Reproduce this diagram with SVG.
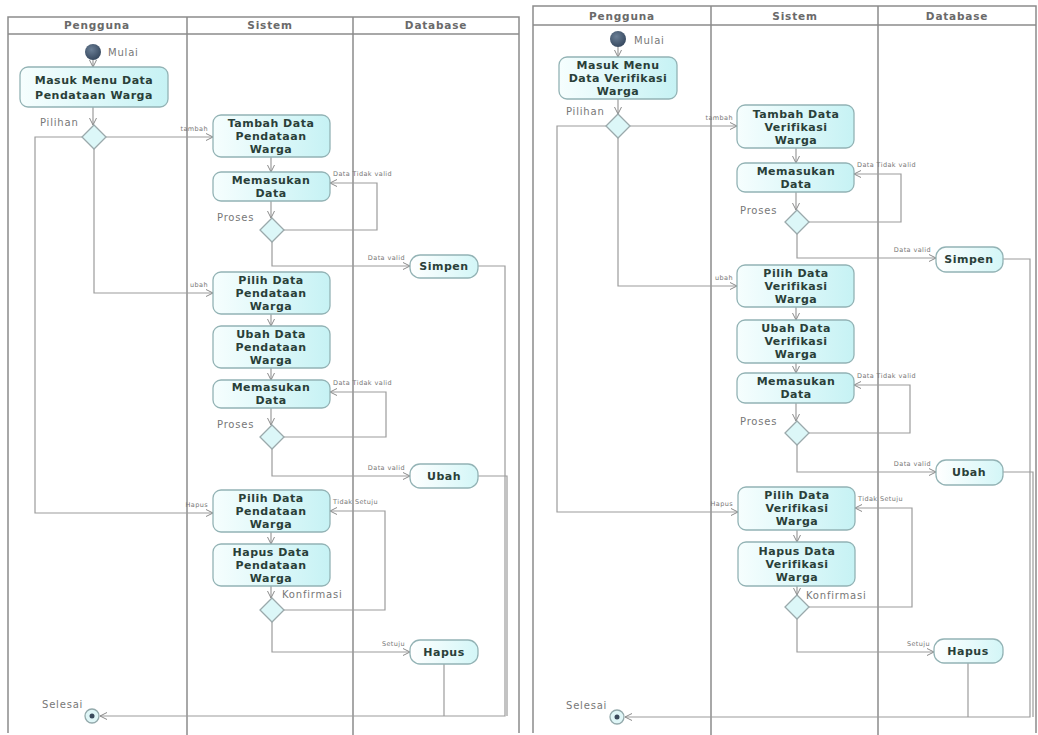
<svg xmlns="http://www.w3.org/2000/svg" width="1038" height="735" viewBox="0 0 1038 735">
<defs>
<linearGradient id="g" x1="0" y1="0" x2="1" y2="0">
<stop offset="0" stop-color="#f6fefe"/><stop offset="1" stop-color="#c6f2f4"/>
</linearGradient>
<linearGradient id="g2" x1="0" y1="0" x2="1" y2="0">
<stop offset="0" stop-color="#ffffff"/><stop offset="1" stop-color="#d3f6f7"/>
</linearGradient>
<radialGradient id="gs" cx="0.4" cy="0.35" r="0.7">
<stop offset="0" stop-color="#6b7f96"/><stop offset="1" stop-color="#34465c"/>
</radialGradient>
<marker id="a" markerWidth="8" markerHeight="8" refX="7" refY="4" orient="auto" markerUnits="userSpaceOnUse">
<path d="M0,0.5 L7,4 L0,7.5" fill="none" stroke="#8a8a8a" stroke-width="1"/>
</marker>
<style>
.box{fill:url(#g);stroke:#93b3b5;stroke-width:1.3}
.db{fill:url(#g2);stroke:#93b3b5;stroke-width:1.3}
.dia{fill:#dcf7f8;stroke:#9aa9ab;stroke-width:1.3}
.t{font-family:"DejaVu Sans",sans-serif;font-weight:bold;font-size:11px;fill:#2a3f39;text-anchor:middle;letter-spacing:0.5px}
.h{font-family:"DejaVu Sans",sans-serif;font-weight:bold;font-size:10.5px;fill:#6a6a6a;text-anchor:middle;letter-spacing:0.8px}
.l{font-family:"DejaVu Sans",sans-serif;font-size:10px;fill:#777;letter-spacing:0.8px}
.s{font-family:"DejaVu Sans",sans-serif;font-size:6.5px;fill:#777;letter-spacing:0.4px}
.r{text-anchor:end}
.lane{stroke:#8c8c8c;stroke-width:1.5;fill:none}
.c{stroke:#9c9c9c;stroke-width:1.2;fill:none}
.ca{stroke:#9c9c9c;stroke-width:1.2;fill:none;marker-end:url(#a)}
.start{fill:url(#gs)}
.end{fill:#dff6f7;stroke:#93a9ab;stroke-width:1.3}
</style>
</defs>
<rect width="1038" height="735" fill="#ffffff"/>

<!-- LEFT DIAGRAM lanes -->
<g id="lanesL">
<path class="lane" d="M8,733 V17 H519 V733 M8,34 H519 M187,17 V735 M353,17 V735"/>
<text class="h" x="97" y="29">Pengguna</text>
<text class="h" x="270" y="29">Sistem</text>
<text class="h" x="436" y="29">Database</text>
</g>

<!-- RIGHT DIAGRAM lanes -->
<g id="lanesR">
<path class="lane" d="M533,733 V6 H1036 V733 M533,25 H1036 M711,6 V735 M878,6 V735"/>
<text class="h" x="622" y="20">Pengguna</text>
<text class="h" x="795" y="20">Sistem</text>
<text class="h" x="957" y="20">Database</text>
</g>

<!-- LEFT connectors -->
<g id="connectorsL">
<path class="ca" d="M93,60 V67"/>
<path class="ca" d="M93,107 V125"/>
<path class="ca" d="M106,137 H213"/>
<path class="ca" d="M94,149 V293 H213"/>
<path class="ca" d="M82,137 H35 V513 H213"/>
<path class="ca" d="M271,157 V172"/>
<path class="ca" d="M271,201 V218"/>
<path class="ca" d="M284,230 H377 V183 H330"/>
<path class="ca" d="M272,242 V266 H410"/>
<path class="ca" d="M478,266 H505 V716 H100"/>
<path class="ca" d="M271,314 V326"/>
<path class="ca" d="M271,368 V380"/>
<path class="ca" d="M271,408 V425"/>
<path class="ca" d="M284,437 H386 V392 H330"/>
<path class="ca" d="M272,449 V476 H410"/>
<path class="c" d="M478,476 H507 V716"/>
<path class="ca" d="M271,532 V544"/>
<path class="ca" d="M271,586 V598"/>
<path class="ca" d="M284,610 H385 V511 H330"/>
<path class="ca" d="M272,622 V652 H410"/>
<path class="c" d="M444,664 V716"/>
<text class="s r" x="208" y="131">tambah</text>
<text class="s r" x="208" y="287">ubah</text>
<text class="s r" x="208" y="507">Hapus</text>
<text class="s" x="333" y="176">Data Tidak valid</text>
<text class="s r" x="405" y="260">Data valid</text>
<text class="s" x="333" y="385">Data Tidak valid</text>
<text class="s r" x="405" y="470">Data valid</text>
<text class="s" x="333" y="504">Tidak Setuju</text>
<text class="s r" x="405" y="646">Setuju</text>
<text class="l" x="40" y="126">Pilihan</text>
<text class="l" x="217" y="221">Proses</text>
<text class="l" x="217" y="428">Proses</text>
<text class="l" x="282" y="598">Konfirmasi</text>
</g>

<!-- LEFT nodes -->
<g id="L-start"><circle class="start" cx="93" cy="52" r="8"/><text class="l" x="108" y="56">Mulai</text></g>
<g id="L-masuk"><rect class="box" x="20" y="67" width="148" height="40" rx="8"/><text class="t" x="94" y="84">Masuk Menu Data</text><text class="t" x="94" y="99">Pendataan Warga</text></g>
<g id="L-pilihan"><polygon class="dia" points="94,125 106,137 94,149 82,137"/></g>
<g id="L-tambah"><rect class="box" x="213" y="115" width="117" height="42" rx="8"/><text class="t" x="271" y="127">Tambah Data</text><text class="t" x="271" y="140">Pendataan</text><text class="t" x="271" y="153">Warga</text></g>
<g id="L-masukan1"><rect class="box" x="213" y="172" width="117" height="29" rx="8"/><text class="t" x="271" y="184">Memasukan</text><text class="t" x="271" y="197">Data</text></g>
<g id="L-proses1"><polygon class="dia" points="272,218 284,230 272,242 260,230"/></g>
<g id="L-simpen"><rect class="db" x="410" y="255" width="68" height="23" rx="10"/><text class="t" x="444" y="270">Simpen</text></g>
<g id="L-pilih1"><rect class="box" x="213" y="272" width="117" height="42" rx="8"/><text class="t" x="271" y="284">Pilih Data</text><text class="t" x="271" y="297">Pendataan</text><text class="t" x="271" y="310">Warga</text></g>
<g id="L-ubahdata"><rect class="box" x="213" y="326" width="117" height="42" rx="8"/><text class="t" x="271" y="338">Ubah Data</text><text class="t" x="271" y="351">Pendataan</text><text class="t" x="271" y="364">Warga</text></g>
<g id="L-masukan2"><rect class="box" x="213" y="380" width="117" height="28" rx="8"/><text class="t" x="271" y="391">Memasukan</text><text class="t" x="271" y="404">Data</text></g>
<g id="L-proses2"><polygon class="dia" points="272,425 284,437 272,449 260,437"/></g>
<g id="L-ubah"><rect class="db" x="410" y="464" width="68" height="24" rx="10"/><text class="t" x="444" y="480">Ubah</text></g>
<g id="L-pilih2"><rect class="box" x="213" y="490" width="117" height="42" rx="8"/><text class="t" x="271" y="502">Pilih Data</text><text class="t" x="271" y="515">Pendataan</text><text class="t" x="271" y="528">Warga</text></g>
<g id="L-hapusdata"><rect class="box" x="213" y="544" width="117" height="42" rx="8"/><text class="t" x="271" y="556">Hapus Data</text><text class="t" x="271" y="569">Pendataan</text><text class="t" x="271" y="582">Warga</text></g>
<g id="L-konfirmasi"><polygon class="dia" points="272,598 284,610 272,622 260,610"/></g>
<g id="L-hapus"><rect class="db" x="410" y="640" width="68" height="24" rx="10"/><text class="t" x="444" y="656">Hapus</text></g>
<g id="L-end"><circle class="end" cx="92" cy="716" r="7"/><circle cx="92" cy="716" r="2.5" fill="#3a4a5c"/><text class="l" x="42" y="708">Selesai</text></g>

<!-- RIGHT connectors -->
<g id="connectorsR">
<path class="ca" d="M618,47 V57"/>
<path class="ca" d="M618,99 V114"/>
<path class="ca" d="M630,126 H737"/>
<path class="ca" d="M618,138 V286 H737"/>
<path class="ca" d="M606,126 H557 V512 H738"/>
<path class="ca" d="M796,148 V163"/>
<path class="ca" d="M796,192 V210"/>
<path class="ca" d="M809,222 H901 V174 H854"/>
<path class="ca" d="M797,234 V258 H936"/>
<path class="ca" d="M1003,259 H1030 V717 H625"/>
<path class="ca" d="M796,307 V320"/>
<path class="ca" d="M796,363 V373"/>
<path class="ca" d="M796,403 V421"/>
<path class="ca" d="M809,433 H910 V385 H854"/>
<path class="ca" d="M797,445 V472 H936"/>
<path class="c" d="M1003,472 H1033 V717"/>
<path class="ca" d="M797,530 V542"/>
<path class="ca" d="M797,586 V595"/>
<path class="ca" d="M809,607 H912 V508 H855"/>
<path class="ca" d="M797,619 V652 H934"/>
<path class="c" d="M968,663 V717"/>
<text class="s r" x="733" y="120">tambah</text>
<text class="s r" x="733" y="280">ubah</text>
<text class="s r" x="733" y="506">Hapus</text>
<text class="s" x="857" y="167">Data Tidak valid</text>
<text class="s r" x="931" y="252">Data valid</text>
<text class="s" x="857" y="378">Data Tidak valid</text>
<text class="s r" x="931" y="466">Data valid</text>
<text class="s" x="858" y="501">Tidak Setuju</text>
<text class="s r" x="930" y="646">Setuju</text>
<text class="l" x="566" y="115">Pilihan</text>
<text class="l" x="740" y="214">Proses</text>
<text class="l" x="740" y="425">Proses</text>
<text class="l" x="806" y="599">Konfirmasi</text>
</g>

<!-- RIGHT nodes -->
<g id="R-start"><circle class="start" cx="618" cy="39" r="8"/><text class="l" x="634" y="44">Mulai</text></g>
<g id="R-masuk"><rect class="box" x="559" y="57" width="118" height="42" rx="8"/><text class="t" x="618" y="69">Masuk Menu</text><text class="t" x="618" y="82">Data Verifikasi</text><text class="t" x="618" y="95">Warga</text></g>
<g id="R-pilihan"><polygon class="dia" points="618,114 630,126 618,138 606,126"/></g>
<g id="R-tambah"><rect class="box" x="737" y="105" width="117" height="43" rx="8"/><text class="t" x="796" y="118">Tambah Data</text><text class="t" x="796" y="131">Verifikasi</text><text class="t" x="796" y="144">Warga</text></g>
<g id="R-masukan1"><rect class="box" x="737" y="163" width="117" height="29" rx="8"/><text class="t" x="796" y="175">Memasukan</text><text class="t" x="796" y="188">Data</text></g>
<g id="R-proses1"><polygon class="dia" points="797,210 809,222 797,234 785,222"/></g>
<g id="R-simpen"><rect class="db" x="936" y="247" width="67" height="25" rx="10"/><text class="t" x="969" y="263">Simpen</text></g>
<g id="R-pilih1"><rect class="box" x="737" y="265" width="117" height="42" rx="8"/><text class="t" x="796" y="277">Pilih Data</text><text class="t" x="796" y="290">Verifikasi</text><text class="t" x="796" y="303">Warga</text></g>
<g id="R-ubahdata"><rect class="box" x="737" y="320" width="117" height="43" rx="8"/><text class="t" x="796" y="332">Ubah Data</text><text class="t" x="796" y="345">Verifikasi</text><text class="t" x="796" y="358">Warga</text></g>
<g id="R-masukan2"><rect class="box" x="737" y="373" width="117" height="30" rx="8"/><text class="t" x="796" y="385">Memasukan</text><text class="t" x="796" y="398">Data</text></g>
<g id="R-proses2"><polygon class="dia" points="797,421 809,433 797,445 785,433"/></g>
<g id="R-ubah"><rect class="db" x="936" y="460" width="67" height="25" rx="10"/><text class="t" x="969" y="476">Ubah</text></g>
<g id="R-pilih2"><rect class="box" x="738" y="487" width="117" height="43" rx="8"/><text class="t" x="797" y="499">Pilih Data</text><text class="t" x="797" y="512">Verifikasi</text><text class="t" x="797" y="525">Warga</text></g>
<g id="R-hapusdata"><rect class="box" x="738" y="542" width="117" height="44" rx="8"/><text class="t" x="797" y="555">Hapus Data</text><text class="t" x="797" y="568">Verifikasi</text><text class="t" x="797" y="581">Warga</text></g>
<g id="R-konfirmasi"><polygon class="dia" points="797,595 809,607 797,619 785,607"/></g>
<g id="R-hapus"><rect class="db" x="934" y="639" width="69" height="24" rx="10"/><text class="t" x="968" y="655">Hapus</text></g>
<g id="R-end"><circle class="end" cx="617" cy="717" r="7"/><circle cx="617" cy="717" r="2.5" fill="#3a4a5c"/><text class="l" x="566" y="709">Selesai</text></g>
</svg>
